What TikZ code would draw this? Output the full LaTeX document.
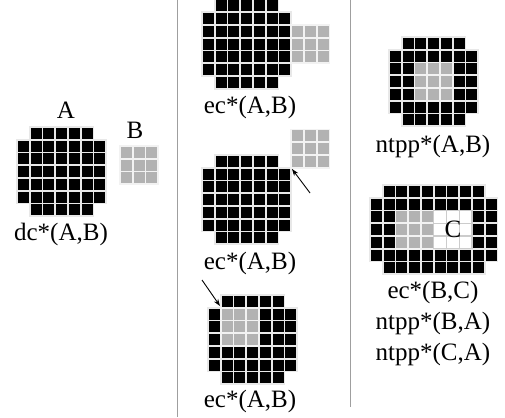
\documentclass[tikz,border=0pt]{standalone}
\usepackage{fontspec}
\setmainfont{Liberation Serif}
\usetikzlibrary{arrows.meta}

% one cell of a raster region: style, column, row
\newcommand\cellat[3]{\path[#1] ({(#2)*\pitch},{(#3)*\pitch}) rectangle ++(\pitch,\pitch);}
% rectangular block of cells: style, first column, first row, columns, rows
\newcommand\cellblock[5]{%
  \foreach \bi in {1,...,#4}{\foreach \bj in {1,...,#5}{\cellat{#1}{#2+\bi-1}{#3+\bj-1}}}}
% rounded raster disc: columns, rows (corner cells left out)
\newcommand\discgrid[2]{%
  \pgfmathtruncatemacro\dgLastR{#2-1}%
  \pgfmathtruncatemacro\dgInC{#1-2}%
  \pgfmathtruncatemacro\dgInR{#2-2}%
  \cellblock{blackcell}{1}{0}{\dgInC}{1}%
  \cellblock{blackcell}{1}{\dgLastR}{\dgInC}{1}%
  \cellblock{blackcell}{0}{1}{#1}{\dgInR}}

\def\pitch{12.75}

\tikzset{
  blackcell/.style={fill=black, draw=gray!18, line width=1.8pt},
  greycell/.style={fill=gray!60, draw=gray!10, line width=1.8pt},
  whitecell/.style={fill=white, draw=gray!40, line width=1.2pt},
  lbl/.style={font=\fontsize{25}{30}\selectfont, inner sep=0pt},
  divider/.style={draw=gray!75, line width=1pt},
  pointer/.style={-{Stealth[length=7pt,width=5pt]}, line width=0.9pt}
}

\begin{document}
\begin{tikzpicture}[x=1pt, y=-1pt]
\useasboundingbox (0,0) rectangle (505,417);

% column dividers
\coordinate (d1top) at (177,0);   \coordinate (d1bot) at (177,417);
\coordinate (d2top) at (350,0);   \coordinate (d2bot) at (350,407);
\draw[divider] (d1top) -- (d1bot);
\draw[divider] (d2top) -- (d2bot);

% dc*(A,B): disjoint regions
\begin{scope}[shift={(17,127)}]
  \discgrid{7}{7}
\end{scope}
\begin{scope}[shift={(120,146)}]
  \cellblock{greycell}{0}{0}{3}{3}
\end{scope}
\node[lbl] (labA) at (66,110) {A};
\node[lbl] (labB) at (135,130) {B};
\node[lbl] (dc) at (61,234) {dc*(A,B)};

% ec*(A,B): side contact
\begin{scope}[shift={(202,-0.5)}]
  \discgrid{7}{7}
  \cellblock{greycell}{7}{2}{3}{3}
\end{scope}
\node[lbl] (ec1) at (250,107) {ec*(A,B)};

% ec*(A,B): corner contact
\begin{scope}[shift={(202,155)}]
  \discgrid{7}{7}
  \cellblock{greycell}{7}{-2}{3}{3}
\end{scope}
\coordinate (tail2) at (310,193);
\coordinate (corner2) at (292,169);
\draw[pointer] (tail2) -- (corner2);
\node[lbl] (ec2) at (250,263) {ec*(A,B)};

% ec*(A,B): region inside touching the boundary at a corner
\begin{scope}[shift={(208,295)}]
  \discgrid{7}{7}
  \cellblock{greycell}{1}{1}{3}{3}
\end{scope}
\coordinate (tail3) at (202,280);
\coordinate (corner3) at (220,306);
\draw[pointer] (tail3) -- (corner3);
\node[lbl] (ec3) at (250,401) {ec*(A,B)};

% ntpp*(A,B)
\begin{scope}[shift={(389,37)}]
  \discgrid{7}{7}
  \cellblock{greycell}{2}{2}{3}{3}
\end{scope}
\node[lbl] (ntpp) at (433,146) {ntpp*(A,B)};

% three regions: B and C inside A
\begin{scope}[shift={(370,185)}]
  \discgrid{10}{7}
  \cellblock{greycell}{2}{2}{3}{3}
  \cellblock{whitecell}{5}{2}{3}{3}
  \node[lbl] (labC) at ({6.5*\pitch},{3.5*\pitch}) {C};
\end{scope}
\node[lbl] (r1) at (433,292) {ec*(B,C)};
\node[lbl] (r2) at (433,323) {ntpp*(B,A)};
\node[lbl] (r3) at (433,354) {ntpp*(C,A)};
\end{tikzpicture}
\end{document}
